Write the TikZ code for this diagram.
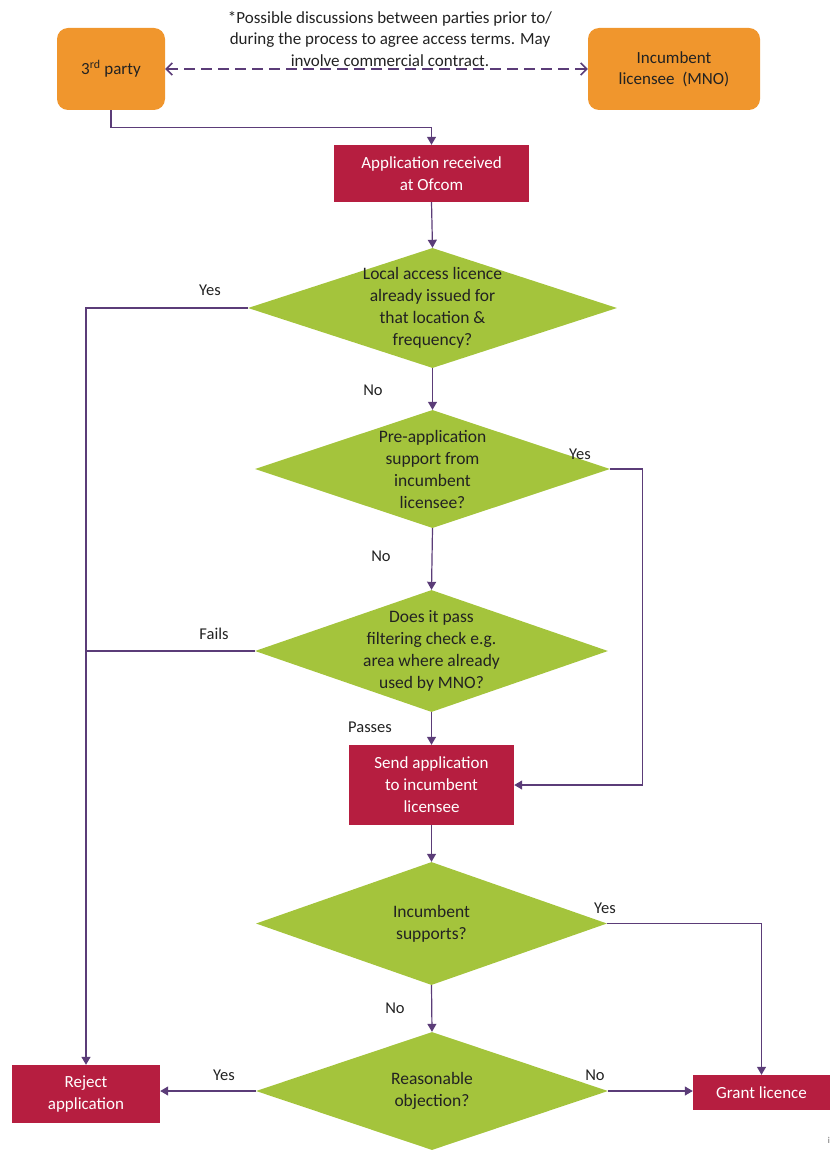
\documentclass[tikz,border=0pt]{standalone}
\usepackage{fontspec}
\setmainfont{Carlito}
\usetikzlibrary{shapes.geometric,arrows.meta,calc}
\definecolor{orng}{HTML}{F0962D}
\definecolor{crim}{HTML}{B61E40}
\definecolor{grn}{HTML}{A4C43C}
\definecolor{purp}{HTML}{5B3C78}
\definecolor{txt}{HTML}{222222}
\begin{document}
\begin{tikzpicture}[x=1pt,y=-1pt,
  ornbox/.style={fill=orng, rounded corners=11pt, minimum width=108pt, minimum height=82pt,
    font=\fontsize{17}{21}\selectfont, text=txt, align=center, inner sep=0pt},
  redbox/.style={fill=crim, text=white, align=center, inner sep=0pt,
    font=\fontsize{17}{22}\selectfont},
  dia/.style={diamond, fill=grn, inner sep=0pt},
  dtext/.style={font=\fontsize{17.5}{22}\selectfont, text=txt, align=center, inner sep=0pt},
  conn/.style={draw=purp, line width=1.2pt, -{Triangle[length=8pt,width=9pt]}},
  plain/.style={draw=purp, line width=1.2pt},
  dsh/.style={draw=purp, line width=1.6pt, dash pattern=on 11pt off 6pt,
    {Straight Barb[length=6pt,width=12pt]}-{Straight Barb[length=6pt,width=12pt]}},
  lbl/.style={font=\fontsize{16.5}{20}\selectfont, text=txt, inner sep=0pt},
  note/.style={font=\fontsize{17}{21.5}\selectfont, text=txt, align=center, inner sep=0pt}
]
\useasboundingbox (0,0) rectangle (838,1150);

% top
\node[ornbox] (tp) at (111,69) {3\textsuperscript{rd} party};
\node[ornbox, minimum width=172pt] (inc) at (674,69) {Incumbent\\licensee\ \ (MNO)};
\draw[dsh] (tp.east) -- (inc.west);
\node[note] (nt) at (390,39) {*Possible discussions between parties prior to/\\during the process to agree access terms. May\\involve commercial contract.};

\node[redbox, minimum width=195pt, minimum height=57pt] (app) at (431.5,173.5) {Application received\\at Ofcom};
\draw[conn] (tp.south) -- ++(0,17) -| (app.north);

% diamonds
\node[dia, minimum width=369pt, minimum height=120pt,
  label={[dtext]center:{Local access licence\\already issued for\\that location \&\\frequency?}}] (d1) at (432.5,308) {};
\node[dia, minimum width=355pt, minimum height=118pt,
  label={[dtext]center:{Pre-application\\support from\\incumbent\\licensee?}}] (d2) at (432.5,469) {};
\node[dia, minimum width=353pt, minimum height=122pt,
  label={[dtext]center:{Does it pass\\filtering check e.g.\\area where already\\used by MNO?}}] (d3) at (431.5,651) {};
\node[redbox, minimum width=165pt, minimum height=80pt] (snd) at (431.5,785) {Send application\\to incumbent\\licensee};
\node[dia, minimum width=351pt, minimum height=123pt,
  label={[dtext]center:{Incumbent\\supports?}}] (d4) at (431.5,923.5) {};
\node[dia, minimum width=352pt, minimum height=118pt,
  label={[dtext]center:{Reasonable\\objection?}}] (d5) at (432,1091) {};
\node[redbox, minimum width=148pt, minimum height=58pt] (rej) at (86,1094) {Reject\\application};
\node[redbox, minimum width=137pt, minimum height=35pt] (grt) at (761.5,1092.5) {Grant licence};

% connectors
\draw[conn] (app.south) -- (d1.north);
\draw[conn] (d1.south) -- (d2.north);
\draw[conn] (d2.south) -- (d3.north);
\draw[conn] (d3.south) -- (snd.north);
\draw[conn] (snd.south) -- (d4.north);
\draw[conn] (d4.south) -- (d5.north);
\draw[conn] (d1.west) -| (rej.north);
\coordinate (j) at (d3.west -| rej.north);
\draw[plain] (d3.west) -- (j);
\draw[conn] (d2.east) -- ++(32,0) |- (snd.east);
\draw[conn] (d4.east) -| (grt.north);
\draw[conn] (d5.west) -- (d5.west -| rej.east);
\draw[conn] (d5.east) -- (d5.east -| grt.west);

% labels
\node[lbl] (l1) at (210,290) {Yes};
\node[lbl] (l2) at (373,390) {No};
\node[lbl] (l3) at (580,454) {Yes};
\node[lbl] (l4) at (381,556) {No};
\node[lbl] (l5) at (214,634) {Fails};
\node[lbl] (l6) at (370,727) {Passes};
\node[lbl] (l7) at (605,908) {Yes};
\node[lbl] (l8) at (395,1008) {No};
\node[lbl] (l9) at (224,1075) {Yes};
\node[lbl] (l10) at (595,1075) {No};
\node[font=\fontsize{9}{10}\selectfont, text=txt!70, inner sep=0pt] (ii) at (829,1140) {i};
\end{tikzpicture}
\end{document}
